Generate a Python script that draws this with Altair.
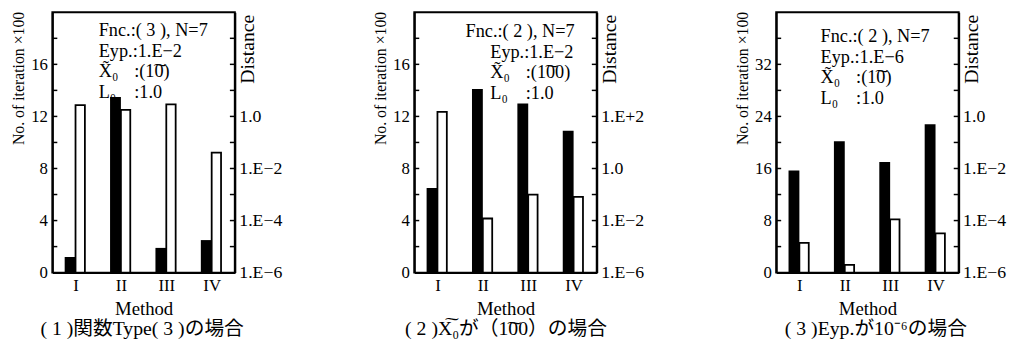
import altair as alt
import pandas as pd

# ---------------- data ----------------
methods = ["I", "II", "III", "IV"]

iter_1 = [1.2, 13.5, 1.9, 2.5]          # No. of iteration x100 (black bars)
dist_1 = [2.7, 1.8, 2.9, 0.041]          # Distance (white bars, log)
iter_2 = [6.5, 14.1, 13.0, 10.9]
dist_2 = [150.0, 0.012, 0.10, 0.082]
iter_3 = [15.7, 20.2, 17.0, 22.8]
dist_3 = [1.4e-5, 2.0e-6, 1.1e-4, 3.2e-5]

left_max = [20, 20, 40]
left_step = [2, 2, 4]
left_labels = [[0, 4, 8, 12, 16], [0, 4, 8, 12, 16], [0, 8, 16, 24, 32]]

right_domain_exp = [[-6, 4], [-4, 6], [-6, 4]]
right_vals = [[1e-6, 1e-4, 1e-2, 1.0], [1e-4, 1e-2, 1.0, 1e2], [1e-6, 1e-4, 1e-2, 1.0]]
right_text = [["1.E−6", "1.E−4", "1.E−2", "1.0"],
              ["1.E−6", "1.E−2", "1.0", "1.E+2"],
              ["1.E−6", "1.E−4", "1.E−2", "1.0"]]

note_line1 = ["Fnc.:( 3 ), N=7", "Fnc.:( 2 ), N=7", "Fnc.:( 2 ), N=7"]
note_line2 = ["Eyp.:1.E−2", "Eyp.:1.E−2", "Eyp.:1.E−6"]
note_keys = ["X\u0303\u2080", "L\u2080"]
note_vals = [[":(1\u03600)", ":1.0"],
             [":(1\u036000)", ":1.0"],
             [":(1\u03600)", ":1.0"]]
captions = ["( 1 )関数Type( 3 )の場合",
            "( 2 )X\u0360\u2080が（1\u036000）の場合",
            "( 3 )Eyp.が10⁻⁶の場合"]

# ---------------- layout / style ----------------
W, H = 185, 264
TOP = 9  # page y of plot top
SERIF = "Liberation Serif, Noto Sans CJK JP"
line1_x = [47, 52, 45]
key_x = [47, 77, 45]
colon_dx = 36
line_y_abs = [[33, 54, 75, 96], [34, 55, 76, 97], [39, 60, 81, 102]]
caption_x = [91, 93, 101]
NOTE_FS = 18.5


def label_expr(vals, texts):
    expr = repr(texts[-1])
    for i in range(len(vals) - 2, -1, -1):
        thr = (vals[i] * vals[i + 1]) ** 0.5
        expr = f"datum.value < {thr} ? {texts[i]!r} : ({expr})"
    return expr


def txt(s, x, y, size=NOTE_FS, align="left"):
    return alt.Chart(pd.DataFrame({"t": [s]})).mark_text(
        align=align, baseline="alphabetic", fontSize=size, font=SERIF, color="black"
    ).encode(text="t:N", x=alt.value(x), y=alt.value(y))


def panel(i, iters, dists):
    df = pd.DataFrame({"method": methods, "iter": iters, "dist": dists})
    xenc = alt.X(
        "method:N", sort=methods,
        scale=alt.Scale(type="point", padding=0.51, domain=methods),
        axis=alt.Axis(title="Method", labelAngle=0, ticks=False, labelPadding=5,
                      labelFontSize=17, titleFontSize=19, titleY=42,
                      titleBaseline="alphabetic", titleFontWeight="normal",
                      domainWidth=2, domainColor="black", grid=False),
    )
    lscale = alt.Scale(domain=[0, left_max[i]], nice=False, zero=True)
    lo, hi = right_domain_exp[i]
    rscale = alt.Scale(type="log", domain=[10.0 ** lo, 10.0 ** hi], nice=False)

    laxis = alt.Axis(orient="left", values=left_labels[i],
                     title="No. of iteration ×100", ticks=False,
                     labelPadding=5, labelFontSize=17, titleFontSize=16,
                     titleAngle=270, titleAlign="right",
                     titleBaseline="middle", titleX=-34, titleY=-1,
                     titleFontWeight="normal", grid=False,
                     domainWidth=2, domainColor="black",
                     labelOverlap=False)
    raxis = alt.Axis(orient="right", values=right_vals[i],
                     labelExpr=label_expr(right_vals[i], right_text[i]),
                     title="Distance", ticks=False, labelPadding=4,
                     labelFontSize=18, titleFontSize=20,
                     titleAngle=270, titleAlign="right",
                     titleBaseline="middle", titleX=13, titleY=2,
                     titleFontWeight="normal", grid=False,
                     domainWidth=2, domainColor="black",
                     labelOverlap=False)

    black = alt.Chart(df).mark_bar(color="black", width=11, xOffset=-5.5).encode(
        x=xenc, y=alt.Y("iter:Q", scale=lscale, axis=laxis, stack=None),
    )
    minor_l = list(range(left_step[i], left_max[i], left_step[i]))
    lt = alt.Chart(pd.DataFrame({"iter": minor_l})).mark_rule(
        color="black", strokeWidth=1.5).encode(
        y=alt.Y("iter:Q", scale=lscale, axis=laxis),
        x=alt.value(0), x2=alt.value(5))
    left = alt.layer(black, lt)

    white = alt.Chart(df).mark_bar(fill="white", stroke="black", strokeWidth=1.8,
                                   width=9.5, xOffset=4.75).encode(
        x=xenc,
        y=alt.Y("dist:Q", scale=rscale, axis=raxis, stack=None),
        y2=alt.datum(10.0 ** lo),
    )
    minor_r = [10.0 ** k for k in range(lo + 1, hi)]
    rt = alt.Chart(pd.DataFrame({"dist": minor_r})).mark_rule(
        color="black", strokeWidth=1.5).encode(
        y=alt.Y("dist:Q", scale=rscale, axis=raxis),
        x=alt.value(W - 5), x2=alt.value(W))
    right = alt.layer(white, rt)

    ly = [v - TOP for v in line_y_abs[i]]
    texts = [
        txt(note_line1[i], line1_x[i], ly[0]),
        txt(note_line2[i], key_x[i], ly[1]),
        txt(note_keys[0], key_x[i], ly[2]),
        txt(note_vals[i][0], key_x[i] + colon_dx, ly[2]),
        txt(note_keys[1], key_x[i], ly[3]),
        txt(note_vals[i][1], key_x[i] + colon_dx, ly[3]),
    ]
    cap = txt(captions[i], caption_x[i], H + 63, size=20, align="center")

    return alt.layer(left, right, *texts, cap).resolve_scale(y="independent").properties(
        width=W, height=H)


chart = alt.hconcat(
    panel(0, iter_1, dist_1),
    panel(1, iter_2, dist_2),
    panel(2, iter_3, dist_3),
    spacing=90,
).properties(
    padding={"left": 2, "top": 0, "right": 0, "bottom": 0}
).configure(font=SERIF).configure_view(
    stroke="black", strokeWidth=2
).configure_axis(
    labelFont=SERIF, titleFont=SERIF, labelColor="black", titleColor="black"
)

chart.save("out.html", embed_options={"renderer": "svg", "actions": False})
